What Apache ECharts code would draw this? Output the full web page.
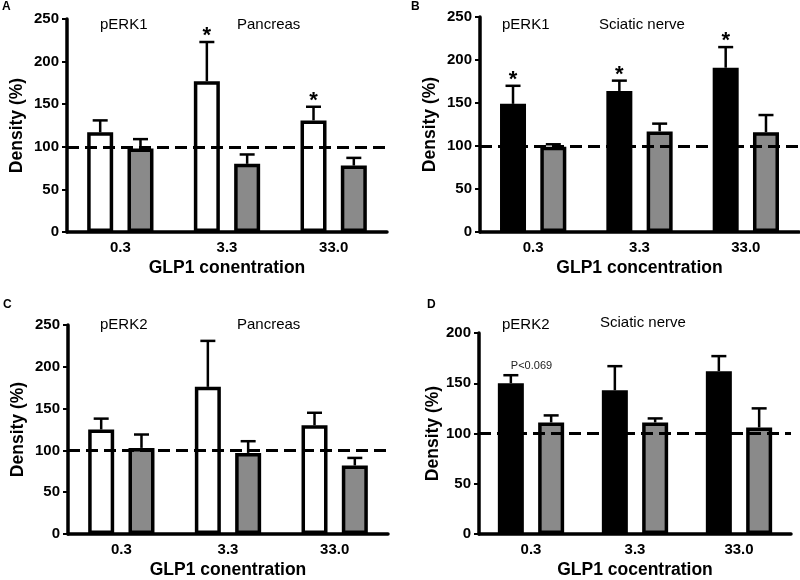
<!DOCTYPE html>
<html>
<head>
<meta charset="utf-8">
<script src="https://cdn.jsdelivr.net/npm/echarts@6/dist/echarts.min.js"></script>
<style>
html, body { margin: 0; padding: 0; background: #fff; }
#main { width: 800px; height: 580px; }
</style>
</head>
<body>
<div id="main"></div>
<script>
var categories = ['0.3', '3.3', '33.0'];

// A: pERK1, pancreas
var aFirst = [117, 177, 131];
var aFirstErr = [14, 46, 16];
var aFirstNote = ['', '*', '*'];
var aSecond = [98, 80, 78];
var aSecondErr = [11, 11, 9];

// B: pERK1, sciatic nerve
var bFirst = [149, 164, 191];
var bFirstErr = [21, 12, 24];
var bFirstNote = ['*', '*', '*'];
var bSecond = [99, 117, 116];
var bSecondErr = [3, 9, 20];

// C: pERK2, pancreas
var cFirst = [125, 176, 130];
var cFirstErr = [13, 55, 15];
var cSecond = [103, 97, 82];
var cSecondErr = [16, 14, 9];

// D: pERK2, sciatic nerve
var dFirst = [150, 143, 162];
var dFirstErr = [8, 24, 15];
var dFirstNote = ['P<0.069', '', ''];
var dSecond = [111, 111, 106];
var dSecondErr = [7, 4, 19];

var noNotes = ['', '', ''];
var refLine = 100;

var FONT = '"Liberation Sans", Arial, Helvetica, sans-serif';
var BAR_W = 26, BAR_GAP = 0.55;
var GRAY = '#8a8a8a';

var myChart = echarts.init(document.getElementById('main'));

var panels = [
    { grid: { left: 67, top: 19, width: 320, height: 213 }, max: 250, xName: 'GLP1 conentration', yGap: 41,
      fill: '#fff', first: aFirst, firstErr: aFirstErr, firstNote: aFirstNote, second: aSecond, secondErr: aSecondErr },
    { grid: { left: 480, top: 17, width: 319, height: 215 }, max: 250, xName: 'GLP1 concentration', yGap: 41,
      fill: '#000', first: bFirst, firstErr: bFirstErr, firstNote: bFirstNote, second: bSecond, secondErr: bSecondErr },
    { grid: { left: 68, top: 325, width: 320, height: 211 }, max: 250, xName: 'GLP1 conentration', yGap: 41,
      fill: '#fff', first: cFirst, firstErr: cFirstErr, firstNote: noNotes, second: cSecond, secondErr: cSecondErr },
    { grid: { left: 479, top: 333, width: 312, height: 202 }, max: 200, xName: 'GLP1 cocentration', yGap: 31,
      fill: '#000', first: dFirst, firstErr: dFirstErr, firstNote: dFirstNote, second: dSecond, secondErr: dSecondErr }
];

// error bars (and the * / p-value notes above them)
function errorSeries(idx, means, errs, notes, side, withRef) {
    var s = {
        type: 'custom',
        xAxisIndex: idx,
        yAxisIndex: idx,
        z: 5,
        silent: true,
        data: means.map(function (m, i) { return [i, m, errs[i]]; }),
        renderItem: function (params, api) {
            var off = side * (BAR_W + BAR_W * BAR_GAP) / 2;
            var base = api.coord([api.value(0), api.value(1)]);
            var top = api.coord([api.value(0), api.value(1) + api.value(2)]);
            var x = base[0] + off;
            var kids = [
                { type: 'line', shape: { x1: x, y1: base[1], x2: x, y2: top[1] }, style: { stroke: '#000', lineWidth: 2.5 } },
                { type: 'line', shape: { x1: x - 7.5, y1: top[1], x2: x + 7.5, y2: top[1] }, style: { stroke: '#000', lineWidth: 2.5 } }
            ];
            var note = notes[params.dataIndex];
            if (note === '*') {
                kids.push({ type: 'text', style: { text: '*', x: x, y: top[1] - 6, align: 'center', verticalAlign: 'middle',
                    font: 'bold 22px ' + FONT, fill: '#000' } });
            } else if (note) {
                kids.push({ type: 'text', style: { text: note, x: x, y: top[1] - 9, align: 'left', verticalAlign: 'middle',
                    font: '11px ' + FONT, fill: '#222' } });
            }
            return { type: 'group', children: kids };
        }
    };
    if (withRef) {
        s.markLine = {
            silent: true,
            symbol: ['none', 'none'],
            label: { show: false },
            lineStyle: { color: '#000', width: 3, type: [12, 6] },
            data: [{ yAxis: refLine }]
        };
    }
    return s;
}

var grids = [], xAxes = [], yAxes = [], series = [];
panels.forEach(function (p, idx) {
    grids.push(p.grid);
    xAxes.push({
        gridIndex: idx,
        type: 'category',
        data: categories,
        name: p.xName,
        nameLocation: 'middle',
        nameGap: 27,
        nameTextStyle: { fontFamily: FONT, fontWeight: 'bold', fontSize: 17.5, color: '#000' },
        axisLine: { lineStyle: { color: '#000', width: 3.5 } },
        axisTick: { show: false },
        axisLabel: { fontFamily: FONT, fontWeight: 'bold', fontSize: 15, color: '#000', margin: 8 }
    });
    yAxes.push({
        gridIndex: idx,
        type: 'value',
        min: 0,
        max: p.max,
        interval: 50,
        name: 'Density (%)',
        nameLocation: 'middle',
        nameGap: p.yGap,
        nameTextStyle: { fontFamily: FONT, fontWeight: 'bold', fontSize: 17.5, color: '#000' },
        splitLine: { show: false },
        axisLine: { show: true, lineStyle: { color: '#000', width: 3.5 } },
        axisTick: { show: true, length: 5, lineStyle: { color: '#000', width: 2 } },
        axisLabel: { fontFamily: FONT, fontWeight: 'bold', fontSize: 15, color: '#000', margin: 8 }
    });
    series.push({
        type: 'bar',
        xAxisIndex: idx,
        yAxisIndex: idx,
        data: p.first,
        barWidth: BAR_W,
        barGap: (BAR_GAP * 100) + '%',
        itemStyle: { color: p.fill, borderColor: '#000', borderWidth: 3.5 }
    });
    series.push({
        type: 'bar',
        xAxisIndex: idx,
        yAxisIndex: idx,
        data: p.second,
        barWidth: BAR_W,
        barGap: (BAR_GAP * 100) + '%',
        itemStyle: { color: GRAY, borderColor: '#000', borderWidth: 3.5 }
    });
    series.push(errorSeries(idx, p.first, p.firstErr, p.firstNote, -1, false));
    series.push(errorSeries(idx, p.second, p.secondErr, noNotes, 1, true));
});

function txt(text, x, y, font) {
    return { type: 'text', x: x, y: y, style: { text: text, font: font, fill: '#000', verticalAlign: 'middle' } };
}
var tf = '15px ' + FONT, lf = 'bold 12px ' + FONT;

var option = {
    animation: false,
    backgroundColor: '#fff',
    grid: grids,
    xAxis: xAxes,
    yAxis: yAxes,
    series: series,
    graphic: [
        txt('A', 2, 7, lf), txt('pERK1', 100, 25, tf), txt('Pancreas', 237, 25, tf),
        txt('B', 411, 7, lf), txt('pERK1', 502, 25, tf), txt('Sciatic nerve', 599, 25, tf),
        txt('C', 3, 305, lf), txt('pERK2', 100, 325, tf), txt('Pancreas', 237, 325, tf),
        txt('D', 427, 305, lf), txt('pERK2', 502, 325, tf), txt('Sciatic nerve', 600, 323, tf)
    ]
};
myChart.setOption(option);
window.onresize = myChart.resize;
</script>
</body>
</html>
